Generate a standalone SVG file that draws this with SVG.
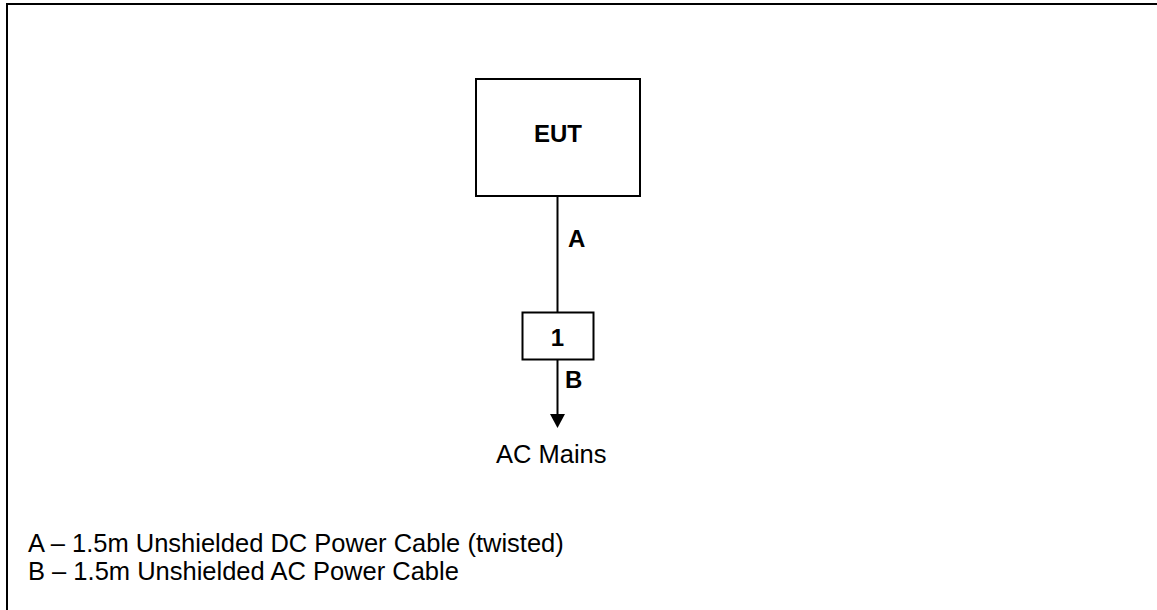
<svg xmlns="http://www.w3.org/2000/svg" width="1157" height="610" viewBox="0 0 1157 610">
<style>
.box{fill:#fff;stroke:#000;stroke-width:2}
.wire{fill:none;stroke:#000;stroke-width:2}
.t{font-family:"Liberation Sans",Arial,sans-serif;font-size:25.5px;fill:#000}
.b{font-family:"Liberation Sans",Arial,sans-serif;font-size:24px;font-weight:bold;fill:#000}
</style>
<rect width="1157" height="610" fill="#fff"/>
<path d="M7,612 V4 H1160" fill="none" stroke="#000" stroke-width="2"/>
<g id="connectors">
<line class="wire" x1="557.5" y1="196" x2="557.5" y2="312"/>
<text class="b" x="568" y="247">A</text>
<line class="wire" x1="557.5" y1="359" x2="557.5" y2="415"/>
<polygon points="550,414 565,414 557.5,428" fill="#000"/>
<text class="b" x="565" y="388">B</text>
</g>
<g id="eut">
<rect class="box" x="476" y="79" width="164" height="117"/>
<text class="b" x="558" y="142" text-anchor="middle">EUT</text>
</g>
<g id="node1">
<rect class="box" x="522.5" y="312.5" width="71" height="47"/>
<text class="b" x="557.5" y="345.5" text-anchor="middle">1</text>
</g>
<g id="acmains">
<text class="t" x="496" y="463">AC Mains</text>
</g>
<g id="legend">
<text class="t" x="28" y="552">A – 1.5m Unshielded DC Power Cable (twisted)</text>
<text class="t" x="28" y="580">B – 1.5m Unshielded AC Power Cable</text>
</g>
</svg>
